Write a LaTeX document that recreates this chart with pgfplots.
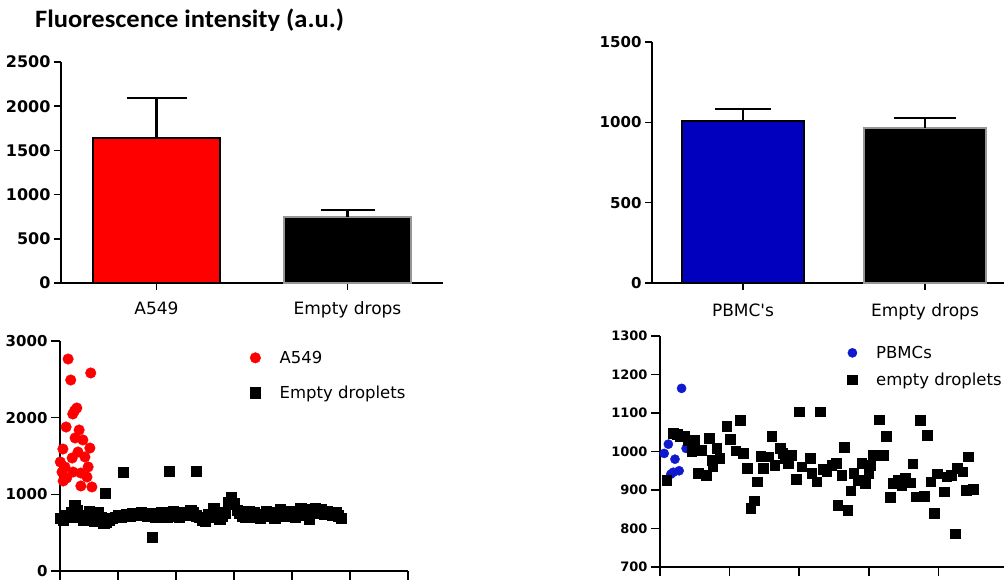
\documentclass[border=0pt]{standalone}
\usepackage{pgfplots}
\pgfplotsset{compat=1.18}
\usepackage{graphicx}
\usepackage{fontspec}
\setmainfont{DejaVu Sans}
\newfontfamily\titlefont{Carlito}
\definecolor{myred}{RGB}{255,0,0}
\definecolor{myblue}{RGB}{0,0,190}
\definecolor{ptblue}{RGB}{15,25,205}
\definecolor{shadow}{RGB}{150,150,150}

\pgfplotsset{
  panel/.style={
    scale only axis,
    axis lines*=left,
    axis line style={line width=1.6pt, black},
    tick align=outside,
    every tick/.style={line width=1.6pt, black},
    major tick length=7pt,
    /pgf/number format/assume math mode=true,
    /pgf/number format/1000 sep={},
    clip=false,
    minor tick num=0,
  },
}

\begin{document}
\begin{tikzpicture}

% ---------------- top left: bar chart A549 ----------------
\begin{axis}[panel,
  at={(61pt,297pt)}, anchor=south west,
  width=382pt, height=221pt,
  xmin=-0.5, xmax=1.5, ymin=0, ymax=2500,
  ytick={0,500,1000,1500,2000,2500},
  xtick={0,1}, xticklabels={A549, Empty drops},
  yticklabel style={font=\fontsize{16}{16}\selectfont\bfseries},
  xticklabel style={font=\fontsize{17}{17}\selectfont, yshift=-8pt},
  ybar, bar width=127pt, bar shift=0pt,
]
\addplot[fill=myred, draw=black, line width=2.5pt,
  error bars/.cd, y dir=plus, y explicit,
  error bar style={line width=2.5pt, black},
  error mark options={rotate=90, mark size=30pt, line width=2.5pt, black}]
  coordinates {(0,1640) +- (0,453)};
\addplot[fill=black, draw=shadow, line width=2.5pt,
  error bars/.cd, y dir=plus, y explicit,
  error bar style={line width=2.5pt, black},
  error mark options={rotate=90, mark size=27pt, line width=2.5pt, black}]
  coordinates {(1,747) +- (0,79)};
\end{axis}

% ---------------- top right: bar chart PBMC ----------------
\begin{axis}[panel,
  at={(652pt,297pt)}, anchor=south west,
  width=355pt, height=241pt,
  xmin=-0.5, xmax=1.4505, ymin=0, ymax=1500,
  ytick={0,500,1000,1500},
  xtick={0,1}, xticklabels={PBMC\textquotesingle s, Empty drops},
  yticklabel style={font=\fontsize{15}{15}\selectfont\bfseries},
  xticklabel style={font=\fontsize{17}{17}\selectfont, yshift=-10pt},
  ybar, bar width=122pt, bar shift=0pt,
]
\addplot[fill=myblue, draw=black, line width=2.5pt,
  error bars/.cd, y dir=plus, y explicit,
  error bar style={line width=2.5pt, black},
  error mark options={rotate=90, mark size=28pt, line width=2.5pt, black}]
  coordinates {(0,1008) +- (0,75)};
\addplot[fill=black, draw=shadow, line width=2.5pt,
  error bars/.cd, y dir=plus, y explicit,
  error bar style={line width=2.5pt, black},
  error mark options={rotate=90, mark size=31pt, line width=2.5pt, black}]
  coordinates {(1,965) +- (0,62)};
\end{axis}

% ---------------- bottom left: scatter A549 ----------------
\begin{axis}[panel,
  at={(60pt,9pt)}, anchor=south west,
  width=348pt, height=230pt,
  xmin=0, xmax=120, ymin=0, ymax=3000,
  ytick={0,1000,2000,3000},
  xtick={0,20,...,120}, xticklabels={},
  major tick length=9pt,
  yticklabel style={font=\fontsize{15}{15}\selectfont\bfseries},
  legend style={draw=none, fill=none, at={(0.537,0.975)}, anchor=north west,
    font=\fontsize{16.5}{16.5}\selectfont, row sep=17pt,
    /tikz/every odd column/.append style={column sep=17pt}},
  legend cell align=left,
]
\addplot[only marks, mark=*, mark size=5.3pt, color=myred] coordinates {
(2.8,2765) (3.7,2491) (10.6,2583) (5.8,2126) (4.4,2048) (5.0,2090)
(2.1,1878) (6.6,1839) (5.2,1735) (7.9,1709) (1.0,1591) (6.2,1552)
(10.3,1604) (4.2,1474) (8.6,1487) (0.1,1422) (1.7,1357) (9.7,1357)
(4.5,1291) (7.2,1278) (0.7,1291) (9.3,1226) (2.3,1213) (1.1,1174)
(7.2,1109) (11.0,1096)
};
\addlegendentry{A549}
\addplot[only marks, mark=square*, mark size=5.2pt, color=black] coordinates {
(0,690) (1,660) (2,720) (3,700) (4,760) (5,850) (6,790) (7,700) (8,660) (9,720)
(10,780) (11,690) (12,650) (13,760) (14,700) (15,620) (16,640) (17,660) (18,690) (19,700)
(20,720) (21,710) (22,730) (23,740) (24,720) (25,750) (26,740) (27,730) (28,760) (29,740)
(30,720) (31,750) (32,730) (33,700) (34,740) (35,760) (36,730) (37,710) (38,750) (39,780)
(40,720) (41,700) (42,740) (43,760) (44,730) (45,790) (46,760) (47,720) (48,700) (49,660)
(50,650) (51,740) (52,700) (53,820) (54,760) (55,680) (56,720) (57,760) (58,900) (59,965)
(60,880) (61,790) (62,760) (63,720) (64,700) (65,780) (66,730) (67,760) (68,700) (69,690)
(70,740) (71,780) (72,760) (73,720) (74,690) (75,760) (76,800) (77,740) (78,720) (79,780)
(80,760) (81,700) (82,740) (83,820) (84,790) (85,730) (86,680) (87,800) (88,820) (89,760)
(90,800) (91,740) (92,780) (93,760) (94,730) (95,760) (96,720) (97,690)
(15.5,1017) (21.7,1291) (37.6,1304) (46.9,1304) (31.7,443)
};
\addlegendentry{Empty droplets}
\end{axis}

% ---------------- bottom right: scatter PBMC ----------------
\begin{axis}[panel,
  at={(660pt,13pt)}, anchor=south west,
  width=346pt, height=231pt,
  xmin=0, xmax=99.4, ymin=700, ymax=1300,
  ytick={700,800,...,1300},
  xtick={0,20,...,80}, xticklabels={},
  major tick length=9pt,
  yticklabel style={font=\fontsize{13}{13}\selectfont\bfseries},
  legend style={draw=none, fill=none, at={(0.533,0.975)}, anchor=north west,
    font=\fontsize{16.5}{16.5}\selectfont, row sep=9pt,
    /tikz/every odd column/.append style={column sep=17pt}},
  legend cell align=left,
]
\addplot[only marks, mark=*, mark size=4.6pt, color=ptblue] coordinates {
(6.2,1164) (1.2,995) (2.4,1019) (4.3,980) (3.1,941) (5.5,950) (7.5,1008) (3.8,946)
};
\addlegendentry{PBMCs}
\addplot[only marks, mark=square*, mark size=4.8pt, color=black] coordinates {
(1.9,926) (3.8,1047) (5.0,1045) (5.7,1038) (7.0,1040) (8.0,1030) (10.0,1030) (9.1,1000)
(12.0,1004) (10.9,944) (13.2,939) (14.1,1035) (14.8,978) (15.1,961) (16.3,1008) (17.2,983)
(19.2,1066) (20.1,1032) (21.8,1002) (23.0,1082) (23.9,996) (25.1,956) (26.1,852) (27.0,872)
(28.0,922) (28.9,988) (29.7,956) (31.1,987) (32.1,1040) (33.0,965) (34.5,1008) (35.2,995)
(35.9,982) (36.9,969) (37.8,991) (39.1,928) (40.0,1103) (40.7,961) (43.1,982) (43.6,943)
(45.0,922) (46.0,1103) (46.7,954) (47.9,948) (49.3,965) (50.6,969) (51.1,861) (52.2,939)
(53.0,1011) (53.9,848) (54.8,898) (55.6,943) (57.0,926) (58.0,969) (58.9,917) (59.9,943)
(60.3,965) (61.3,991) (63.0,1083) (64.2,991) (64.9,1040) (66.1,881) (67.0,917) (68.5,926)
(69.4,913) (70.4,930) (71.8,919) (72.6,968) (73.6,883) (74.7,1082) (75.9,884) (76.8,1043)
(77.8,922) (78.7,839) (79.7,942) (81.6,896) (82.4,935) (83.6,939) (84.8,787) (85.4,956)
(87.0,948) (87.9,900) (88.6,987) (90.0,902)
};
\addlegendentry{empty droplets}
\end{axis}

\node[anchor=base west, inner sep=0pt]
  at (35pt,552pt) {\scalebox{1.06}[1]{\titlefont\fontsize{25}{25}\selectfont\bfseries Fluorescence intensity (a.u.)}};

\pgfresetboundingbox
\useasboundingbox (0,0) rectangle (1004pt,580pt);
\end{tikzpicture}
\end{document}
